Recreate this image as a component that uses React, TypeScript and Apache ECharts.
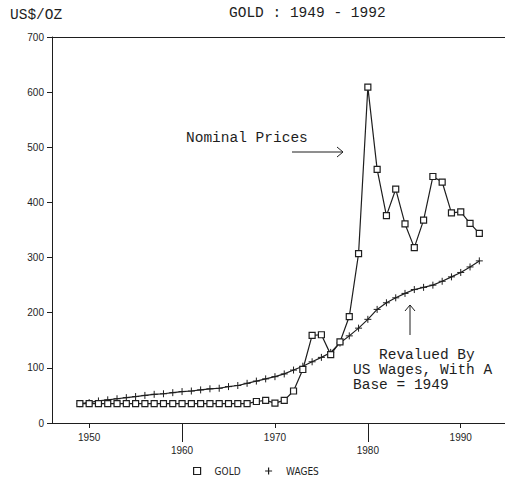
import React, { useEffect, useRef } from "react";
import * as echarts from "echarts";

const years: number[] = [];
for (let y = 1949; y <= 1992; y++) years.push(y);

const goldPrices = [
  35, 35, 35, 35, 35, 35, 35, 35, 35, 35, 35, 35, 35, 35, 35, 35, 35, 35, 35,
  39, 41, 36, 41, 58, 97, 159, 160, 124, 147, 193, 307, 609, 460, 376, 424,
  361, 318, 368, 447, 437, 381, 383, 362, 344,
];

const wagesPrices = [
  35, 37, 40, 42, 44, 46, 48, 50, 52, 53, 55, 57, 58, 60, 62, 63, 66, 68, 72,
  76, 80, 84, 89, 96, 103, 111, 119, 128, 145, 158, 172, 188, 206, 218, 227,
  235, 242, 246, 250, 257, 265, 273, 283, 294,
];

const xTickLabels = [1950, 1960, 1970, 1980, 1990];
const xLongTicks = [1960, 1980];

const INK = "#1e1e1e";
const MONO = "'Liberation Mono', 'DejaVu Sans Mono', monospace";
const SANS = "'Liberation Sans', Arial, sans-serif";
const COND = "'DejaVu Sans Condensed', 'Liberation Sans Narrow', sans-serif";
const PLUS = "path://M5,0L5,10M0,5L10,5";
const X_MIN = 1946;
const X_MAX = 1995.84;

export default function App() {
  const ref = useRef<HTMLDivElement>(null);
  useEffect(() => {
    if (!ref.current) return;
    const chart = echarts.init(ref.current, null, { renderer: "svg" });
    const gold = years.map((y, i) => [y, goldPrices[i]]);
    const wages = years.map((y, i) => [y, wagesPrices[i]]);
    const txt = (x: number, y: number, s: string) => ({
      type: "text",
      x,
      y,
      style: {
        text: s,
        font: `14.5px ${MONO}`,
        fill: INK,
        textVerticalAlign: "middle",
      },
    });
    chart.setOption({
      animation: false,
      backgroundColor: "#ffffff",
      grid: {
        left: 52,
        top: 37,
        right: 0,
        bottom: 55,
        show: false,
      },
      xAxis: [
        {
          type: "value",
          min: X_MIN,
          max: X_MAX,
          axisLine: { show: true, onZero: false, lineStyle: { color: INK, width: 1 } },
          splitLine: { show: false },
          axisTick: {
            show: true,
            length: 5,
            customValues: xTickLabels,
            lineStyle: { color: INK },
          },
          axisLabel: {
            customValues: xTickLabels,
            margin: 8,
            fontSize: 10,
            lineHeight: 13,
            color: INK,
            fontFamily: SANS,
            formatter: (v: number) => (v % 20 === 0 ? "\n" + v : String(v)),
          },
        },
        {
          type: "value",
          min: X_MIN,
          max: X_MAX,
          position: "bottom",
          axisLine: { show: false, onZero: false },
          splitLine: { show: false },
          axisTick: {
            show: true,
            length: 19,
            customValues: xLongTicks,
            lineStyle: { color: INK },
          },
          axisLabel: { show: false },
        },
        {
          type: "value",
          min: X_MIN,
          max: X_MAX,
          position: "top",
          axisLine: { show: true, onZero: false, lineStyle: { color: INK, width: 1 } },
          splitLine: { show: false },
          axisTick: { show: false },
          axisLabel: { show: false },
        },
      ],
      yAxis: {
        type: "value",
        min: 0,
        max: 700,
        interval: 100,
        position: "left",
        axisLine: { show: true, onZero: false, lineStyle: { color: INK, width: 1 } },
        axisTick: { show: true, length: 5, lineStyle: { color: INK } },
        splitLine: { show: false },
        axisLabel: {
          margin: 8,
          fontSize: 10,
          color: INK,
          fontFamily: SANS,
        },
      },
      legend: {
        left: 193,
        top: 465,
        padding: 0,
        itemWidth: 7,
        itemHeight: 7,
        itemGap: 22,
        textStyle: {
          fontFamily: COND,
          fontSize: 10,
          color: INK,
          padding: [0, 0, 0, 9],
        },
        data: [
          {
            name: "GOLD",
            icon: "rect",
            itemStyle: { color: "#fff", borderColor: INK, borderWidth: 1.2 },
          },
          {
            name: "WAGES",
            icon: PLUS,
            itemStyle: { color: "none", borderColor: INK, borderWidth: 1.2 },
          },
        ],
      },
      series: [
        {
          name: "WAGES",
          type: "line",
          data: wages,
          symbol: PLUS,
          symbolSize: 7,
          showAllSymbol: true,
          lineStyle: { color: INK, width: 1.2 },
          itemStyle: { color: "none", borderColor: INK, borderWidth: 1 },
          z: 2,
        },
        {
          name: "GOLD",
          type: "line",
          data: gold,
          symbol: "rect",
          symbolSize: 6,
          showAllSymbol: true,
          lineStyle: { color: INK, width: 1.2 },
          itemStyle: { color: "#fff", borderColor: INK, borderWidth: 1.2 },
          z: 3,
        },
      ],
      graphic: [
        txt(10, 15, "US$/OZ"),
        txt(229, 13, "GOLD : 1949 - 1992"),
        txt(186, 138, "Nominal Prices"),
        txt(379, 355, "Revalued By"),
        txt(353, 370, "US Wages, With A"),
        txt(353, 385, "Base = 1949"),
        {
          type: "line",
          shape: { x1: 292, y1: 152, x2: 343, y2: 152 },
          style: { stroke: INK, lineWidth: 1 },
        },
        {
          type: "polyline",
          shape: { points: [[337, 147], [343, 152], [337, 157]] },
          style: { stroke: INK, lineWidth: 1, fill: "none" },
        },
        {
          type: "line",
          shape: { x1: 410, y1: 305, x2: 410, y2: 335 },
          style: { stroke: INK, lineWidth: 1 },
        },
        {
          type: "polyline",
          shape: { points: [[405, 311], [410, 305], [415, 311]] },
          style: { stroke: INK, lineWidth: 1, fill: "none" },
        },
      ],
    });
    return () => chart.dispose();
  }, []);
  return (
    <div
      ref={ref}
      style={{ position: "fixed", left: 0, top: 0, width: 515, height: 478 }}
    />
  );
}
